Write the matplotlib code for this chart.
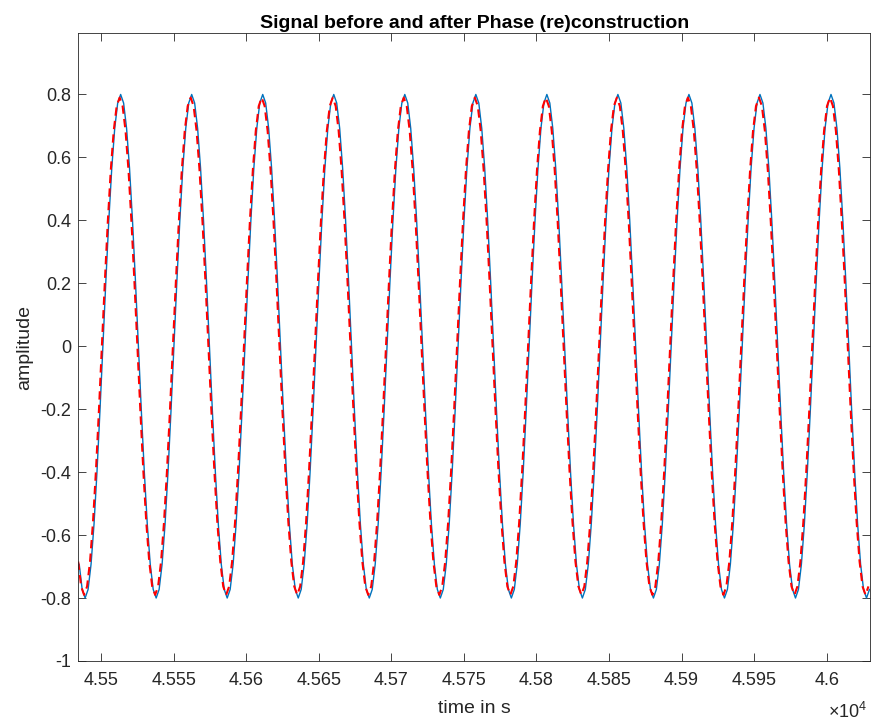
import numpy as np
import matplotlib
matplotlib.use('Agg')
import matplotlib.pyplot as plt
from matplotlib.ticker import FixedLocator, FuncFormatter

plt.rcParams['font.family'] = ['Liberation Sans', 'DejaVu Sans']
plt.rcParams['mathtext.fontset'] = 'custom'
plt.rcParams['mathtext.rm'] = 'Liberation Sans'

# sample grid of the signals (time in s)
t_start = 45485.0
t_step = 2.039
rec_shift = -0.7   # reconstructed signal sits slightly earlier

# original signal
orig = [
    -0.6928, -0.7727, -0.8, -0.7727, -0.6928, -0.5657, -0.4, -0.2071, 0.0, 0.2071, 0.4, 0.5657, 0.6928, 0.7727, 0.8, 0.7727, 0.6928, 0.5657, 0.4, 0.2071, 0.0, -0.2071, -0.4, -0.5657,
    -0.6928, -0.7727, -0.8, -0.7727, -0.6928, -0.5657, -0.4, -0.2071, 0.0, 0.2071, 0.4, 0.5657, 0.6928, 0.7727, 0.8, 0.7727, 0.6928, 0.5657, 0.4, 0.2071, 0.0, -0.2071, -0.4, -0.5657,
    -0.6928, -0.7727, -0.8, -0.7727, -0.6928, -0.5657, -0.4, -0.2071, 0.0, 0.2071, 0.4, 0.5657, 0.6928, 0.7727, 0.8, 0.7727, 0.6928, 0.5657, 0.4, 0.2071, 0.0, -0.2071, -0.4, -0.5657,
    -0.6928, -0.7727, -0.8, -0.7727, -0.6928, -0.5657, -0.4, -0.2071, 0.0, 0.2071, 0.4, 0.5657, 0.6928, 0.7727, 0.8, 0.7727, 0.6928, 0.5657, 0.4, 0.2071, 0.0, -0.2071, -0.4, -0.5657,
    -0.6928, -0.7727, -0.8, -0.7727, -0.6928, -0.5657, -0.4, -0.2071, 0.0, 0.2071, 0.4, 0.5657, 0.6928, 0.7727, 0.8, 0.7727, 0.6928, 0.5657, 0.4, 0.2071, 0.0, -0.2071, -0.4, -0.5657,
    -0.6928, -0.7727, -0.8, -0.7727, -0.6928, -0.5657, -0.4, -0.2071, 0.0, 0.2071, 0.4, 0.5657, 0.6928, 0.7727, 0.8, 0.7727, 0.6928, 0.5657, 0.4, 0.2071, 0.0, -0.2071, -0.4, -0.5657,
    -0.6928, -0.7727, -0.8, -0.7727, -0.6928, -0.5657, -0.4, -0.2071, 0.0, 0.2071, 0.4, 0.5657, 0.6928, 0.7727, 0.8, 0.7727, 0.6928, 0.5657, 0.4, 0.2071, 0.0, -0.2071, -0.4, -0.5657,
    -0.6928, -0.7727, -0.8, -0.7727, -0.6928, -0.5657, -0.4, -0.2071, 0.0, 0.2071, 0.4, 0.5657, 0.6928, 0.7727, 0.8, 0.7727, 0.6928, 0.5657, 0.4, 0.2071, 0.0, -0.2071, -0.4, -0.5657,
    -0.6928, -0.7727, -0.8, -0.7727, -0.6928, -0.5657, -0.4, -0.2071, 0.0, 0.2071, 0.4, 0.5657, 0.6928, 0.7727, 0.8, 0.7727, 0.6928, 0.5657, 0.4, 0.2071, 0.0, -0.2071, -0.4, -0.5657,
    -0.6928, -0.7727, -0.8, -0.7727, -0.6928, -0.5657, -0.4, -0.2071, 0.0, 0.2071, 0.4, 0.5657, 0.6928, 0.7727, 0.8, 0.7727, 0.6928, 0.5657, 0.4, 0.2071, 0.0, -0.2071, -0.4, -0.5657,
    -0.6928, -0.7727, -0.8, -0.7727, -0.6928, -0.5657, -0.4, -0.2071, 0.0, 0.2071, 0.4, 0.5657, 0.6928, 0.7727, 0.8, 0.7727, 0.6928, 0.5657, 0.4, 0.2071, 0.0, -0.2071, -0.4, -0.5657,
    -0.6928, -0.7727, -0.8, -0.7727,
]

# reconstructed signal (slightly smaller amplitude)
recon = [
    -0.6842, -0.7631, -0.79, -0.7631, -0.6842, -0.5586, -0.395, -0.2045, 0.0, 0.2045, 0.395, 0.5586, 0.6842, 0.7631, 0.79, 0.7631, 0.6842, 0.5586, 0.395, 0.2045, 0.0, -0.2045, -0.395, -0.5586,
    -0.6842, -0.7631, -0.79, -0.7631, -0.6842, -0.5586, -0.395, -0.2045, 0.0, 0.2045, 0.395, 0.5586, 0.6842, 0.7631, 0.79, 0.7631, 0.6842, 0.5586, 0.395, 0.2045, 0.0, -0.2045, -0.395, -0.5586,
    -0.6842, -0.7631, -0.79, -0.7631, -0.6842, -0.5586, -0.395, -0.2045, 0.0, 0.2045, 0.395, 0.5586, 0.6842, 0.7631, 0.79, 0.7631, 0.6842, 0.5586, 0.395, 0.2045, 0.0, -0.2045, -0.395, -0.5586,
    -0.6842, -0.7631, -0.79, -0.7631, -0.6842, -0.5586, -0.395, -0.2045, 0.0, 0.2045, 0.395, 0.5586, 0.6842, 0.7631, 0.79, 0.7631, 0.6842, 0.5586, 0.395, 0.2045, 0.0, -0.2045, -0.395, -0.5586,
    -0.6842, -0.7631, -0.79, -0.7631, -0.6842, -0.5586, -0.395, -0.2045, 0.0, 0.2045, 0.395, 0.5586, 0.6842, 0.7631, 0.79, 0.7631, 0.6842, 0.5586, 0.395, 0.2045, 0.0, -0.2045, -0.395, -0.5586,
    -0.6842, -0.7631, -0.79, -0.7631, -0.6842, -0.5586, -0.395, -0.2045, 0.0, 0.2045, 0.395, 0.5586, 0.6842, 0.7631, 0.79, 0.7631, 0.6842, 0.5586, 0.395, 0.2045, 0.0, -0.2045, -0.395, -0.5586,
    -0.6842, -0.7631, -0.79, -0.7631, -0.6842, -0.5586, -0.395, -0.2045, 0.0, 0.2045, 0.395, 0.5586, 0.6842, 0.7631, 0.79, 0.7631, 0.6842, 0.5586, 0.395, 0.2045, 0.0, -0.2045, -0.395, -0.5586,
    -0.6842, -0.7631, -0.79, -0.7631, -0.6842, -0.5586, -0.395, -0.2045, 0.0, 0.2045, 0.395, 0.5586, 0.6842, 0.7631, 0.79, 0.7631, 0.6842, 0.5586, 0.395, 0.2045, 0.0, -0.2045, -0.395, -0.5586,
    -0.6842, -0.7631, -0.79, -0.7631, -0.6842, -0.5586, -0.395, -0.2045, 0.0, 0.2045, 0.395, 0.5586, 0.6842, 0.7631, 0.79, 0.7631, 0.6842, 0.5586, 0.395, 0.2045, 0.0, -0.2045, -0.395, -0.5586,
    -0.6842, -0.7631, -0.79, -0.7631, -0.6842, -0.5586, -0.395, -0.2045, 0.0, 0.2045, 0.395, 0.5586, 0.6842, 0.7631, 0.79, 0.7631, 0.6842, 0.5586, 0.395, 0.2045, 0.0, -0.2045, -0.395, -0.5586,
    -0.6842, -0.7631, -0.79, -0.7631, -0.6842, -0.5586, -0.395, -0.2045, 0.0, 0.2045, 0.395, 0.5586, 0.6842, 0.7631, 0.79, 0.7631, 0.6842, 0.5586, 0.395, 0.2045, 0.0, -0.2045, -0.395, -0.5586,
    -0.6842, -0.7631, -0.79, -0.7631,
]

x_ticks = [45500, 45550, 45600, 45650, 45700, 45750, 45800, 45850, 45900, 45950, 46000]
y_ticks = [-1, -0.8, -0.6, -0.4, -0.2, 0, 0.2, 0.4, 0.6, 0.8]

t_orig = t_start + t_step * np.arange(len(orig))
t_rec = t_orig[:len(recon)] + rec_shift

fig = plt.figure(figsize=(8.74, 7.23), dpi=100)
ax = fig.add_axes([0.0898, 0.0858, 0.906, 0.868])

ax.plot(t_orig, orig, color='#0072BD', lw=1.0)
ax.plot(t_rec, recon, color='#FF0000', lw=1.5, ls=(0, (4, 2.5)))

ax.set_xlim(45484.5, 46030)
ax.set_ylim(-1, 0.994)

ax.xaxis.set_major_locator(FixedLocator(x_ticks))
ax.yaxis.set_major_locator(FixedLocator(y_ticks))
ax.xaxis.set_major_formatter(FuncFormatter(lambda v, p: '%g' % (v / 1e4)))
ax.yaxis.set_major_formatter(FuncFormatter(lambda v, p: '%g' % round(v, 2)))

edge = '#262626'
for s in ax.spines.values():
    s.set_color(edge)
    s.set_linewidth(0.6)
ax.tick_params(direction='in', length=5.8, width=0.6, color=edge, labelcolor=edge,
               labelsize=13, top=True, right=True)
ax.tick_params(axis='x', pad=8)
ax.tick_params(axis='y', pad=5)

ax.set_title('Signal before and after Phase (re)construction', fontsize=14,
             fontweight='bold', pad=4)
ax.set_xlabel('time in s', fontsize=14, color=edge, labelpad=8)
ax.set_ylabel('amplitude', fontsize=14, color=edge, labelpad=5)

ax.text(0.996, -0.066, r'$\times10^{4}$', transform=ax.transAxes, ha='right', va='top',
        fontsize=13, color=edge)

fig.savefig('out.png', dpi=100)
